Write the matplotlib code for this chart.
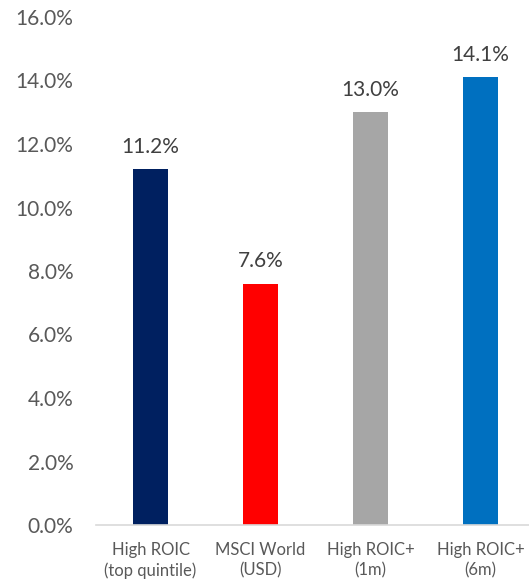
import matplotlib
matplotlib.use("Agg")
import matplotlib.pyplot as plt
from matplotlib.ticker import FuncFormatter

categories = ["High ROIC\n(top quintile)", "MSCI World\n(USD)", "High ROIC+\n(1m)", "High ROIC+\n(6m)"]
values = [11.2, 7.6, 13.0, 14.1]
colors = ["#002060", "#FF0000", "#A6A6A6", "#0070C0"]

plt.rcParams['font.family'] = ['Lato', 'DejaVu Sans']
text_color = "#595959"

fig = plt.figure(figsize=(5.29, 5.82), dpi=100)
ax = fig.add_axes([95.5 / 529, 57 / 582, 440 / 529, 508 / 582])

x = list(range(len(categories)))
bars = ax.bar(x, values, width=0.32, color=colors)

for xi, v in zip(x, values):
    ax.annotate(f"{v:.1f}%", (xi, v), xytext=(0, 9), textcoords="offset points",
                ha="center", va="bottom", fontsize=15, color="#404040")

ax.set_xlim(-0.5, 3.5)
ax.set_ylim(0, 16)
ax.set_yticks([0, 2, 4, 6, 8, 10, 12, 14, 16])
ax.yaxis.set_major_formatter(FuncFormatter(lambda v, p: f"{v:.1f}%"))
ax.set_xticks(x)
ax.set_xticklabels(categories, fontsize=12, color=text_color, linespacing=1.35)
ax.tick_params(axis="y", length=0, pad=16, labelsize=15, labelcolor=text_color)
ax.tick_params(axis="x", length=0, pad=12)

for s in ["top", "right", "left"]:
    ax.spines[s].set_visible(False)
ax.spines["bottom"].set_color("#D9D9D9")
ax.spines["bottom"].set_linewidth(1.2)

fig.savefig("out.png", dpi=100)
